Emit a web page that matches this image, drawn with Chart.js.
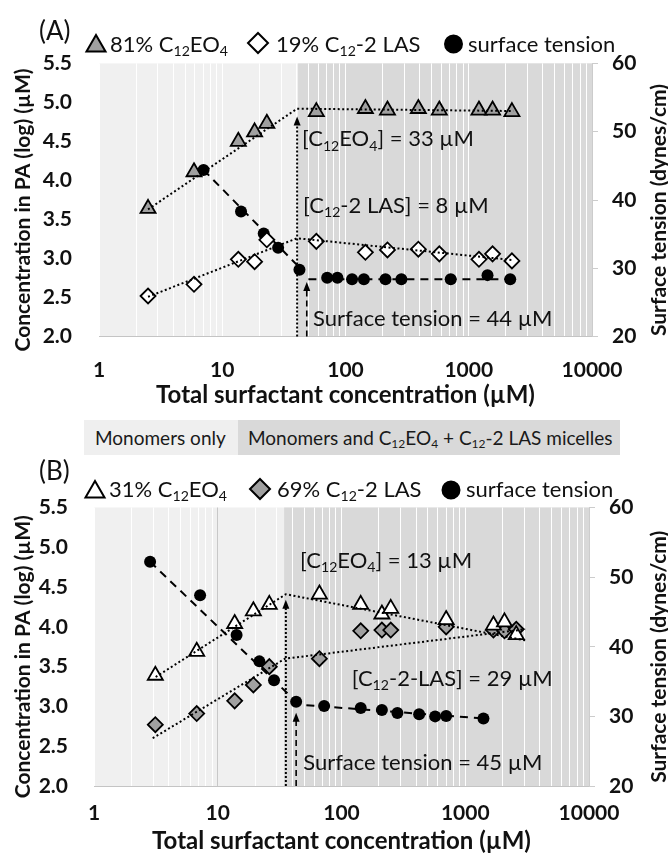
<!DOCTYPE html>
<html><head><meta charset="utf-8">
<script src="https://cdn.jsdelivr.net/npm/chart.js@4.4.1/dist/chart.umd.min.js"></script>
<style>
html,body{margin:0;padding:0;background:#fff;width:668px;height:856px;overflow:hidden;font-family:Lato,"Open Sans",sans-serif;}
#cA{position:absolute;left:0;top:0;}
#cB{position:absolute;left:0;top:456px;}
.band{position:absolute;top:420px;height:35px;line-height:35px;font-size:19px;color:#1a1a1a;white-space:nowrap;box-sizing:border-box;}
.band sub{font-size:12px;vertical-align:-3px;line-height:0;}
</style></head><body>
<canvas id="cA" width="668" height="415"></canvas>
<div class="band" style="left:84px;width:154px;background:#efefef;padding-left:11px;">Monomers only</div>
<div class="band" style="left:238px;width:382px;background:#d9d9d9;padding-left:10px;">Monomers and C<sub>12</sub>EO<sub>4</sub> + C<sub>12</sub>-2 LAS micelles</div>
<canvas id="cB" width="668" height="400"></canvas>
<script>
// ---------- shared axis data ----------
const xTickValues = [1,2,3,4,5,6,7,8,9,10,20,30,40,50,60,70,80,90,100,200,300,400,500,600,700,800,900,1000,2000,3000,4000,5000,6000,7000,8000,9000,10000];
const xTickLabels = {1:'1',10:'10',100:'100',1000:'1000',10000:'10000'};

// ---------- Panel A data ----------
const totalA   = [2.5, 5.9, 13.5, 18.3, 23, 58, 145, 219, 390, 577, 1210, 1560, 2240];
const eo4A     = [3.64, 4.11, 4.50, 4.62, 4.73, 4.88, 4.92, 4.90, 4.92, 4.90, 4.90, 4.90, 4.88];
const lasA     = [2.52, 2.67, 2.99, 2.96, 3.24, 3.22, 3.08, 3.11, 3.12, 3.06, 2.99, 3.06, 2.97];
const stConcA  = [7.05, 14.2, 21.7, 28.4, 42.3, 71, 86, 113, 141, 211, 284, 714, 1420, 2170];
const stA      = [44.4, 38.3, 35.1, 33.0, 29.8, 28.6, 28.6, 28.4, 28.4, 28.4, 28.4, 28.4, 29.0, 28.4];
const eo4TrendAx = [2.5, 40.5, 2300];
const eo4TrendA  = [3.63, 4.92, 4.89];
const lasTrendAx = [2.5, 40.5, 2300];
const lasTrendA  = [2.51, 3.26, 2.98];
const stFit1Ax = [7.05, 40.3];
const stFit1A  = [44.4, 30.5];
const stFit2Ax = [50, 2170];
const stFit2A  = [28.4, 28.4];
const micelleStartA = 41.2;
const arrowXA   = [40.5, 48.5];
const arrowTipA = [4.82, 2.70];

// ---------- Panel B data ----------
const totalB   = [3.13, 6.76, 13.7, 19.4, 26.1, 66.3, 143, 212, 250, 701, 1690, 2075, 2583];
const eo4B     = [3.39, 3.69, 4.04, 4.20, 4.28, 4.41, 4.28, 4.16, 4.23, 4.09, 4.02, 4.06, 3.90];
const lasB     = [2.77, 2.91, 3.07, 3.27, 3.50, 3.60, 3.95, 3.96, 3.96, 4.00, 3.96, 3.95, 3.97];
const stConcB  = [2.84, 7.2, 14.2, 21.7, 28.5, 43, 72.4, 143, 212, 283, 424, 571, 701, 1403];
const stB      = [52.2, 47.4, 41.7, 37.9, 35.2, 32.1, 31.5, 31.2, 30.9, 30.5, 30.3, 30.0, 30.05, 29.7];
const eo4TrendBx = [3.15, 35.5, 3050];
const eo4TrendB  = [3.37, 4.41, 3.83];
const lasTrendBx = [2.98, 35, 3050];
const lasTrendB  = [2.60, 3.60, 3.97];
const stFit1Bx = [2.84, 37.2];
const stFit1B  = [52.2, 33.2];
const stFit2Bx = [52, 1403];
const stFit2B  = [31.6, 29.7];
const micelleStartB = 34.4;
const arrowXB   = [35.5, 43];
const arrowTipB = [4.34, 2.92];

// ---------- texts ----------
const legendA = [
  [['81% C',0],['12',1],['EO',0],['4',1]],
  [['19% C',0],['12',1],['-2 LAS',0]],
  [['surface tension',0]]
];
const legendB = [
  [['31% C',0],['12',1],['EO',0],['4',1]],
  [['69% C',0],['12',1],['-2 LAS',0]],
  [['surface tension',0]]
];
const notesA = [
  {parts:[['[C',0],['12',1],['EO',0],['4',1],['] = 33 µM',0]], x:44.4, y:4.54},
  {parts:[['[C',0],['12',1],['-2 LAS] = 8 µM',0]], x:45.3, y:3.69},
  {parts:[['Surface tension = 44 µM',0]], x:54.6, y:2.24}
];
const notesB = [
  {parts:[['[C',0],['12',1],['EO',0],['4',1],['] = 13 µM',0]], x:46.3, y:4.84},
  {parts:[['[C',0],['12',1],['-2-LAS] = 29 µM',0]], x:121, y:3.36},
  {parts:[['Surface tension = 45 µM',0]], x:49, y:2.30}
];
const yTitleLeft  = 'Concentration in PA (log) (µM)';
const yTitleRight = 'Surface tension (dynes/cm)';
const xTitle      = 'Total surfactant concentration (µM)';

const FONT = 'Lato, "Open Sans", sans-serif';
const TXT = '#111';

function xy(xs, ys){ return xs.map((x,i)=>({x:x, y:ys[i]})); }

function drawRich(ctx, parts, x, base, size, weight){
  let cx = x;
  ctx.textAlign='left'; ctx.textBaseline='alphabetic'; ctx.fillStyle=TXT;
  for (const [t, sub] of parts){
    const s = sub ? size*0.64 : size;
    ctx.font = `${weight} ${s}px ${FONT}`;
    ctx.fillText(t, cx, sub ? base + size*0.2 : base);
    cx += ctx.measureText(t).width;
  }
}
function drawMarker(ctx, type, x, y, r, fill){
  ctx.save();
  ctx.beginPath();
  if (type==='triangle'){
    for (let k=0;k<3;k++){ const a = k*2*Math.PI/3; const px=x+Math.sin(a)*r, py=y-Math.cos(a)*r; k?ctx.lineTo(px,py):ctx.moveTo(px,py); }
    ctx.closePath();
  } else if (type==='diamond'){
    ctx.moveTo(x,y-r); ctx.lineTo(x+r,y); ctx.lineTo(x,y+r); ctx.lineTo(x-r,y); ctx.closePath();
  } else {
    ctx.arc(x,y,r,0,Math.PI*2);
  }
  ctx.fillStyle=fill; ctx.fill();
  ctx.lineWidth=2; ctx.strokeStyle='#000'; ctx.stroke();
  ctx.restore();
}
function vText(ctx, text, x, y, font){
  ctx.save();
  ctx.translate(x, y); ctx.rotate(-Math.PI/2);
  ctx.font=font; ctx.textAlign='center'; ctx.textBaseline='middle'; ctx.fillStyle=TXT;
  ctx.fillText(text, 0, 0);
  ctx.restore();
}

function makePanel(id, cfg){
  const annot = {
    id:'annot'+id,
    beforeDraw(chart){
      const {ctx, chartArea:a, scales} = chart;
      ctx.save();
      ctx.fillStyle='#f0f0f0';
      ctx.fillRect(a.left, a.top, a.right-a.left, a.bottom-a.top);
      const xm = scales.x.getPixelForValue(cfg.micelleStart);
      ctx.fillStyle='#d9d9d9';
      ctx.fillRect(xm, a.top, a.right-xm, a.bottom-a.top);
      ctx.restore();
    },
    afterDatasetsDraw(chart){
      const {ctx, chartArea:a, scales} = chart;
      ctx.save();
      cfg.arrowX.forEach((v,i)=>{
        const px = scales.x.getPixelForValue(v);
        const tip = scales.y.getPixelForValue(cfg.arrowTip[i]);
        ctx.strokeStyle='#000'; ctx.lineWidth = i===0?2:1.6;
        ctx.setLineDash(i===0?[2,2]:[6,4]);
        ctx.beginPath(); ctx.moveTo(px, a.bottom); ctx.lineTo(px, tip+7); ctx.stroke();
        ctx.setLineDash([]);
        ctx.fillStyle='#000';
        ctx.beginPath(); ctx.moveTo(px, tip); ctx.lineTo(px-3.5, tip+9); ctx.lineTo(px+3.5, tip+9); ctx.closePath(); ctx.fill();
      });
      cfg.notes.forEach(n=>{
        const px = scales.x.getPixelForValue(n.x);
        const py = scales.y.getPixelForValue(n.y);
        drawRich(ctx, n.parts, px, py + 22*0.36, 22, 'normal');
      });
      ctx.restore();
    },
    afterDraw(chart){
      const {ctx, chartArea:a} = chart;
      ctx.save();
      ctx.fillStyle=TXT; ctx.font=`normal 26px ${FONT}`; ctx.textAlign='left'; ctx.textBaseline='alphabetic';
      ctx.fillText(cfg.label, 39, cfg.labelBase);
      const L = cfg.legendPos;
      drawMarker(ctx,'triangle', L.m[0], L.my+3, 11, cfg.legFill[0]);
      drawRich(ctx, cfg.legend[0], L.t[0], L.base, 22, 'normal');
      drawMarker(ctx,'diamond', L.m[1], L.my, 10, cfg.legFill[1]);
      drawRich(ctx, cfg.legend[1], L.t[1], L.base, 22, 'normal');
      drawMarker(ctx,'circle', L.m[2], L.my+1, 8.5, '#000');
      drawRich(ctx, cfg.legend[2], L.t[2], L.base, 22, 'normal');
      const cy = (a.top+a.bottom)/2 + 10;
      vText(ctx, yTitleLeft, 23, cy, `bold 21px ${FONT}`);
      vText(ctx, yTitleRight, 659, cy, `bold 21px ${FONT}`);
      ctx.restore();
    }
  };

  const tickFont = {family:FONT, size:21, weight:'bold'};
  const titleFont = {family:FONT, size:24, weight:'bold'};
  const H = cfg.height;
  return new Chart(document.getElementById(id), {
    data:{datasets:[
      {type:'scatter', label:'trend EO4', data:xy(cfg.eo4Tx, cfg.eo4T), showLine:true, pointRadius:0, borderColor:'#000', borderWidth:2, borderDash:[2,2.5], yAxisID:'y', order:0},
      {type:'scatter', label:'trend LAS', data:xy(cfg.lasTx, cfg.lasT), showLine:true, pointRadius:0, borderColor:'#000', borderWidth:2, borderDash:[2,2.5], yAxisID:'y', order:0},
      {type:'scatter', label:'C12EO4', data:xy(cfg.total, cfg.eo4), pointStyle:'triangle', pointRadius:8.7, pointBorderWidth:1.8, pointBackgroundColor:cfg.legFill[0], pointBorderColor:'#000', yAxisID:'y', order:2},
      {type:'scatter', label:'C12-2 LAS', data:xy(cfg.total, cfg.las), pointStyle:'rectRot', pointRadius:7.5, pointBorderWidth:1.8, pointBackgroundColor:cfg.legFill[1], pointBorderColor:'#000', yAxisID:'y', order:2},
      {type:'scatter', label:'fit1', data:xy(cfg.f1x, cfg.f1), showLine:true, pointRadius:0, borderColor:'#000', borderWidth:2, borderDash:[8,6], yAxisID:'y2', order:4},
      {type:'scatter', label:'fit2', data:xy(cfg.f2x, cfg.f2), showLine:true, pointRadius:0, borderColor:'#000', borderWidth:2, borderDash:[8,6], yAxisID:'y2', order:4},
      {type:'scatter', label:'surface tension', data:xy(cfg.stx, cfg.st), pointStyle:'circle', pointRadius:6, pointBorderWidth:0, pointBackgroundColor:'#000', pointBorderColor:'#000', yAxisID:'y2', order:3}
    ]},
    options:{
      responsive:false, animation:false, events:[], devicePixelRatio:1,
      layout:{padding:{top:cfg.top, left:0, right:0, bottom:0}},
      plugins:{legend:{display:false}, tooltip:{enabled:false}},
      scales:{
        x:{type:'logarithmic', position:'bottom', min:1, max:10000,
           afterBuildTicks(s){ s.ticks = xTickValues.map(v=>({value:v, major: !!xTickLabels[v]})); },
           afterFit(s){ s.height = H - cfg.bottom; },
           ticks:{autoSkip:false, maxRotation:0, padding:cfg.xPad, color:TXT, font:tickFont,
                  callback(v){ return xTickLabels[v] || ''; }},
           grid:{color(c){ return (cfg.grayTen && c.tick && c.tick.value===10) ? '#c8c8c8' : '#ffffff'; }, lineWidth:1, drawTicks:false},
           border:{display:true, color:'#c4c4c4', width:1},
           title:{display:true, text:xTitle, color:TXT, font:titleFont, padding:{top:0,bottom:cfg.xTitlePad}}
        },
        y:{position:'left', min:2, max:5.5,
           afterFit(s){ s.width = cfg.left; },
           ticks:{stepSize:0.5, padding:cfg.yPad, color:TXT, font:tickFont, callback(v){ return v.toFixed(1); }},
           grid:{display:false, drawTicks:false}, border:{display:false},
           title:{display:false}
        },
        y2:{position:'right', min:20, max:60,
           afterFit(s){ s.width = 668 - cfg.right; },
           ticks:{stepSize:10, padding:14, color:TXT, font:tickFont},
           grid:{display:true, drawOnChartArea:false, drawTicks:true, tickLength:6, color:'#cccccc'},
           border:{display:true, color:'#cccccc'}
        }
      }
    },
    plugins:[annot]
  });
}

makePanel('cA', {
  height:415, top:63.4, bottom:336.6, left:99, right:592, xPad:21, xTitlePad:5, yPad:27,
  micelleStart:micelleStartA, arrowX:arrowXA, arrowTip:arrowTipA, notes:notesA,
  label:'(A)', labelBase:40, legend:legendA, legFill:['#a0a0a0','#ffffff'],
  legendPos:{m:[96,258,453.5], t:[110,276,468], my:43, base:52},
  total:totalA, eo4:eo4A, las:lasA, stx:stConcA, st:stA,
  eo4Tx:eo4TrendAx, eo4T:eo4TrendA, lasTx:lasTrendAx, lasT:lasTrendA,
  f1x:stFit1Ax, f1:stFit1A, f2x:stFit2Ax, f2:stFit2A, grayTen:false
});
makePanel('cB', {
  height:400, top:51.5, bottom:330, left:94, right:589, xPad:15, xTitlePad:0, yPad:26,
  micelleStart:micelleStartB, arrowX:arrowXB, arrowTip:arrowTipB, notes:notesB,
  label:'(B)', labelBase:24, legend:legendB, legFill:['#ffffff','#a0a0a0'],
  legendPos:{m:[95,260,451], t:[109,277,466], my:33, base:41},
  total:totalB, eo4:eo4B, las:lasB, stx:stConcB, st:stB,
  eo4Tx:eo4TrendBx, eo4T:eo4TrendB, lasTx:lasTrendBx, lasT:lasTrendB,
  f1x:stFit1Bx, f1:stFit1B, f2x:stFit2Bx, f2:stFit2B, grayTen:true
});
</script>
</body></html>
